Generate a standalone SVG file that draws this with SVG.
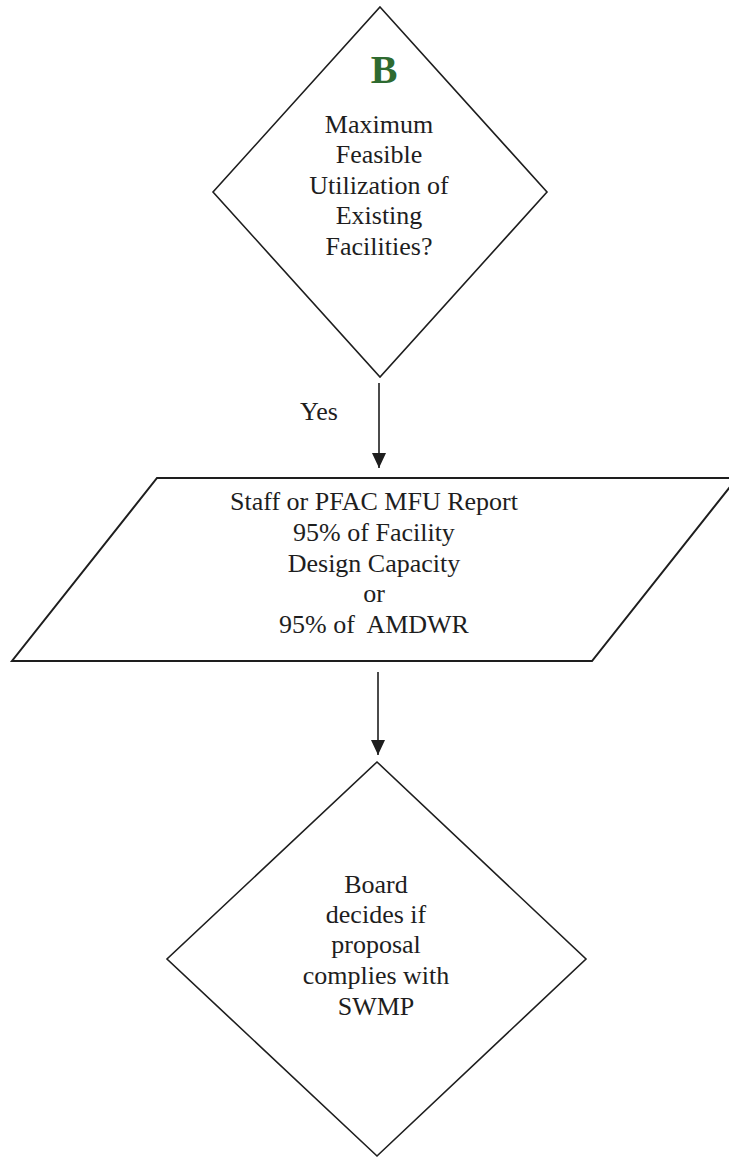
<svg xmlns="http://www.w3.org/2000/svg" width="729" height="1158" viewBox="0 0 729 1158">
  <style>
    .shape { fill: #ffffff; stroke: #1e1e1e; stroke-width: 1.6; stroke-linejoin: miter; }
    .para { fill: #ffffff; stroke: #1e1e1e; stroke-width: 2; }
    .lbl { font-family: "Liberation Serif", "Times New Roman", serif; font-size: 26px; fill: #1e1e1e; text-anchor: middle; white-space: pre; }
    .letter { font-family: "Liberation Serif", "Times New Roman", serif; font-size: 40px; font-weight: bold; fill: #2e6a30; text-anchor: middle; }
    .conn { stroke: #1e1e1e; stroke-width: 1.6; fill: none; }
  </style>
  <defs>
    <marker id="arrow" markerUnits="userSpaceOnUse" markerWidth="16" markerHeight="15" refX="15" refY="7" orient="auto">
      <path d="M0,0 L15,7 L0,14 z" fill="#1e1e1e"/>
    </marker>
  </defs>
  <rect width="729" height="1158" fill="#ffffff"/>

  <g id="node-decision-b">
    <polygon class="shape" points="380,7 547,192 380,377 213,192"/>
    <text class="letter" x="384" y="83">B</text>
    <text class="lbl" x="379" y="133">Maximum</text>
    <text class="lbl" x="379" y="163">Feasible</text>
    <text class="lbl" x="379" y="194">Utilization of</text>
    <text class="lbl" x="379" y="224">Existing</text>
    <text class="lbl" x="379" y="255">Facilities?</text>
  </g>

  <g id="node-mfu-report">
    <polygon class="para" points="157,478 737,478 592,661 12,661"/>
    <text class="lbl" x="374" y="510">Staff or PFAC MFU Report</text>
    <text class="lbl" x="374" y="541">95% of Facility</text>
    <text class="lbl" x="374" y="572">Design Capacity</text>
    <text class="lbl" x="374" y="602">or</text>
    <text class="lbl" x="374" y="633">95% of  AMDWR</text>
  </g>

  <g id="node-board-decides">
    <polygon class="shape" points="377,762 586,959 377,1156 167,959"/>
    <text class="lbl" x="376" y="893">Board</text>
    <text class="lbl" x="376" y="923">decides if</text>
    <text class="lbl" x="376" y="953">proposal</text>
    <text class="lbl" x="376" y="984">complies with</text>
    <text class="lbl" x="376" y="1015">SWMP</text>
  </g>

  <g id="connectors">
    <line class="conn" x1="379" y1="383" x2="379" y2="468" marker-end="url(#arrow)"/>
    <text class="lbl" x="319" y="420">Yes</text>
    <line class="conn" x1="378" y1="672" x2="378" y2="755" marker-end="url(#arrow)"/>
  </g>
</svg>
